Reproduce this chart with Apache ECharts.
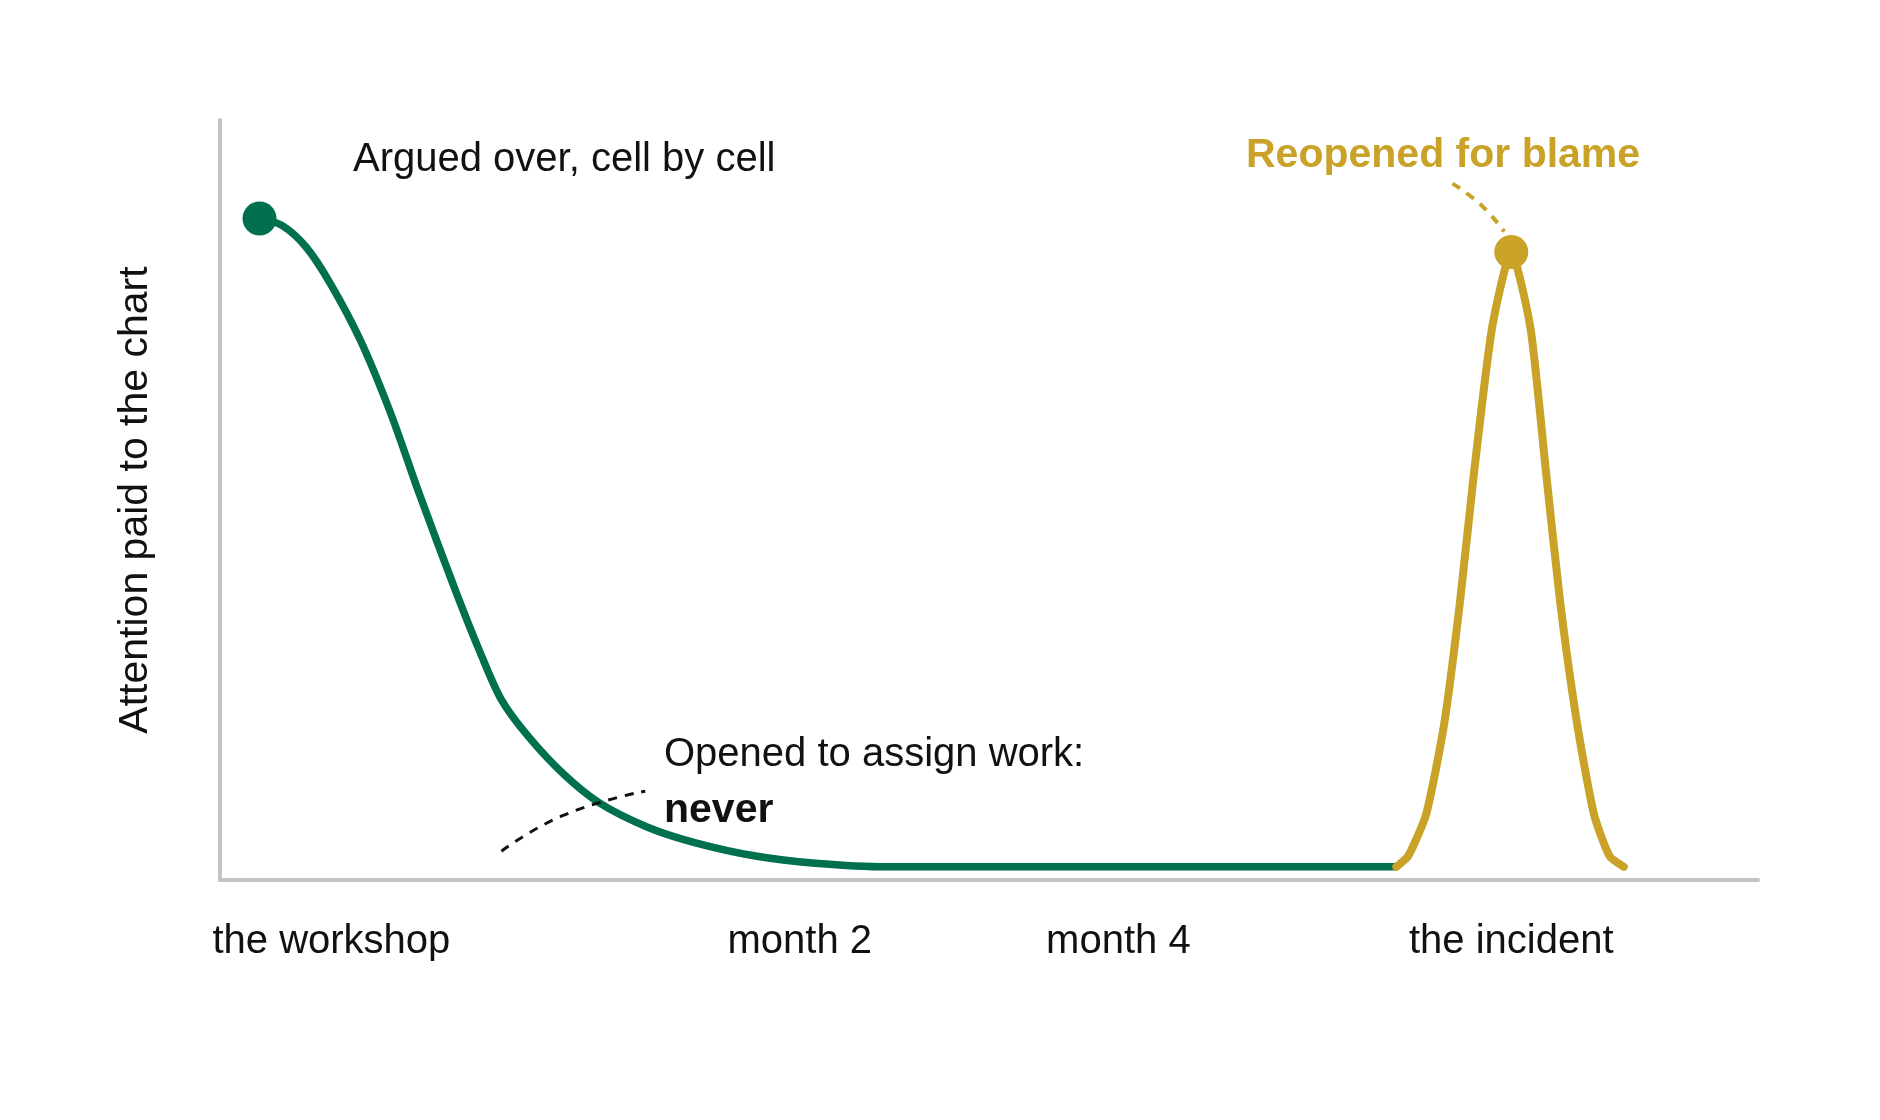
<!DOCTYPE html><html><head><meta charset="utf-8"><script src="https://cdn.jsdelivr.net/npm/echarts@6/dist/echarts.min.js"></script>
<style>html,body{margin:0;background:#fff}#c{width:1880px;height:1120px}</style></head><body><div id="c"></div><script>
const tickValues=[276,667,933,1261];
const tickLabels=['the workshop','month 2','month 4','the incident'];
const greenCurve=[[216,551],[235,545],[255,527],[275,497],[300,450],[325,390],[350,320],[380,240],[400,190],[418,150],[440,120],[470,88],[500,64],[540,44],[580,31],[630,20],[680,14],[740,11],[1165,11]];
const goldCurve=[[1165,11],[1175,20],[1190,55],[1205,130],[1218,230],[1230,340],[1245,460],[1261,523],[1277,460],[1290,340],[1302,230],[1316,130],[1330,55],[1343,20],[1355,11]];
const blackDash=[[418,24],[470,54],[538,74]];
const goldDash=[[1212,580],[1236,562],[1255,540]];
const G='#00704f',Y='#c9a227',F='Liberation Sans, Arial, sans-serif';
const ch=echarts.init(document.getElementById('c'));
ch.setOption({animation:false,
grid:{left:220,right:122,top:120,bottom:240},
xAxis:{type:'value',min:183,max:1467,splitLine:{show:false},axisLine:{lineStyle:{color:'#c0c4c8',width:4}},axisTick:{show:false},
 axisLabel:{customValues:tickValues,formatter:v=>tickLabels[tickValues.indexOf(v)]||'',fontSize:40,color:'#111',fontFamily:F,margin:42}},
yAxis:{type:'value',min:0,max:633,splitLine:{show:false},axisLine:{show:true,lineStyle:{color:'#c0c4c8',width:4}},axisTick:{show:false},axisLabel:{show:false},
 name:'Attention paid to the chart',nameLocation:'middle',nameGap:64,nameTextStyle:{fontSize:41,color:'#111',fontFamily:F}},
series:[
 {type:'line',data:greenCurve,smooth:0.3,symbol:'none',lineStyle:{color:G,width:7.5,cap:'round'}},
 {type:'line',data:goldCurve,smooth:0.2,symbol:'none',lineStyle:{color:Y,width:8,cap:'round'}},
 {type:'scatter',data:[greenCurve[0]],symbolSize:34,itemStyle:{color:G,opacity:1}},
 {type:'scatter',data:[goldCurve[7]],symbolSize:34,itemStyle:{color:Y,opacity:1}},
 {type:'line',data:blackDash,smooth:true,symbol:'none',lineStyle:{color:'#111',width:3,type:[9,8]}},
 {type:'line',data:goldDash,smooth:true,symbol:'none',lineStyle:{color:Y,width:4,type:[9,8]}}
],
graphic:[
 {type:'text',left:353,top:140,style:{text:'Argued over, cell by cell',fontSize:40,fill:'#111',fontFamily:F}},
 {type:'text',left:1246,top:135,style:{text:'Reopened for blame',fontSize:41,fontWeight:'bold',fill:Y,fontFamily:F}},
 {type:'text',left:664,top:735,style:{text:'Opened to assign work:',fontSize:40,fill:'#111',fontFamily:F}},
 {type:'text',left:664,top:790,style:{text:'never',fontSize:41,fontWeight:'bold',fill:'#111',fontFamily:F}}
]});
</script></body></html>
